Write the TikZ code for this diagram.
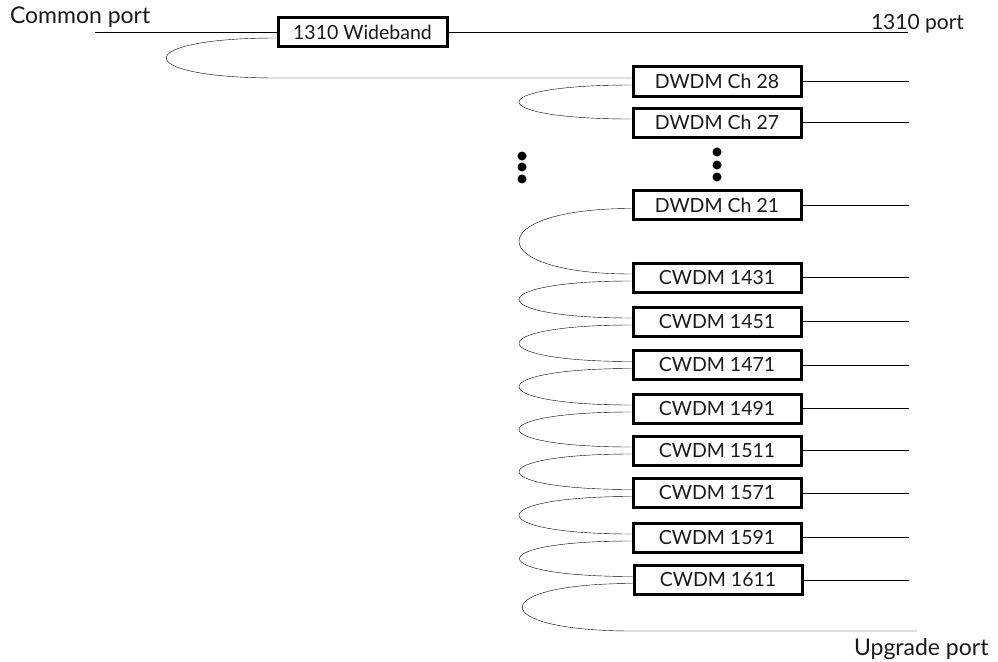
\documentclass[tikz,border=0pt]{standalone}
\usepackage{fontspec}
\setmainfont{Lato}
\newcommand{\loopdraw}[2]{%
  \draw ([yshift=-3.5pt]#1.west)
    .. controls +(-150,0) and +(-150,0) ..
  ([yshift=3.5pt]#2.west);
}
\usepackage{tikz}
\usetikzlibrary{
  calc,
  positioning
}

\begin{document}
\begin{tikzpicture}[x=1pt, y=-1pt]

\tikzset{
  filterbox/.style={
    draw,
    rectangle,
    fill=white,
    line width=3pt,
    minimum width=168pt,
    minimum height=29pt,
    inner sep=0pt,
    align=center,
    font=\fontsize{19.5}{22}\selectfont
  },
  portlabel/.style={
    anchor=base west,
    inner sep=0pt,
    font=\fontsize{23}{26}\selectfont
  },
  line width=2pt,
  text=black!90
}

\useasboundingbox (0,0) rectangle (998,661);

% NODES ----------------------------------------------------------

% Wideband filter + port labels
\node[filterbox, minimum width=169pt] (wb) at (362.5, 32) {1310 Wideband};
\node[portlabel] (common) at (9, 24)   {Common port};
\node[portlabel, font=\fontsize{21}{24}\selectfont] (port1310) at (870, 30) {1310 port};
\node[portlabel] (upgrade) at (853, 655) {Upgrade port};

% DWDM channels
\node[filterbox] (d28) at (717, 81.5)  {DWDM Ch 28};
\node[filterbox] (d27) at (717, 122.5) {DWDM Ch 27};
\node[filterbox] (d21) at (717, 205)   {DWDM Ch 21};

% CWDM channels
\node[filterbox] (c1431) at (717, 277.5) {CWDM 1431};
\node[filterbox] (c1451) at (717, 321.5) {CWDM 1451};
\node[filterbox] (c1471) at (717, 365)   {CWDM 1471};
\node[filterbox] (c1491) at (717, 408.5) {CWDM 1491};
\node[filterbox] (c1511) at (717, 450.5) {CWDM 1511};
\node[filterbox] (c1571) at (717, 493)   {CWDM 1571};
\node[filterbox] (c1591) at (717, 537.5) {CWDM 1591};
\node[filterbox] (c1611) at (718, 580)   {CWDM 1611};

% Free ends
\coordinate (cpin)  at (95, 32);
\coordinate (p1310) at (908, 32);
\coordinate (rx)    at (909, 0);
\coordinate (upg)   at (917, 631);
\coordinate (d28in) at ([yshift=3.5pt]d28.west);

% DRAWS ---------------------------------------------------------

% Common port and 1310 port
\draw (cpin) -- (wb.west);
\draw (wb.east) -- (p1310);

% Wideband loop to first DWDM channel
\draw ([yshift=-6pt]wb.west)
  .. controls +(-147,0) and +(-147,0) ..
  (wb.west |- d28in) -- (d28in);

% Channel outputs
\foreach \ch in {d28,d27,d21,c1431,c1451,c1471,c1491,c1511,c1571,c1591,c1611}
  \draw (\ch.east) -- (\ch.east -| rx);

% Loops between channels
\loopdraw{d28}{d27}
\loopdraw{d21}{c1431}
\loopdraw{c1431}{c1451}
\loopdraw{c1451}{c1471}
\loopdraw{c1471}{c1491}
\loopdraw{c1491}{c1511}
\loopdraw{c1511}{c1571}
\loopdraw{c1571}{c1591}
\loopdraw{c1591}{c1611}

% Last loop to upgrade port
\draw ([yshift=-3.5pt]c1611.west)
  .. controls +(-147,0) and +(-147,0) ..
  (c1611.west |- upg) -- (upg);

% Dots for skipped channels
\foreach \y in {156,167,179} \fill (522,\y) circle (4.5);
\foreach \y in {152,165,177} \fill (717,\y) circle (4.5);

\end{tikzpicture}
\end{document}
